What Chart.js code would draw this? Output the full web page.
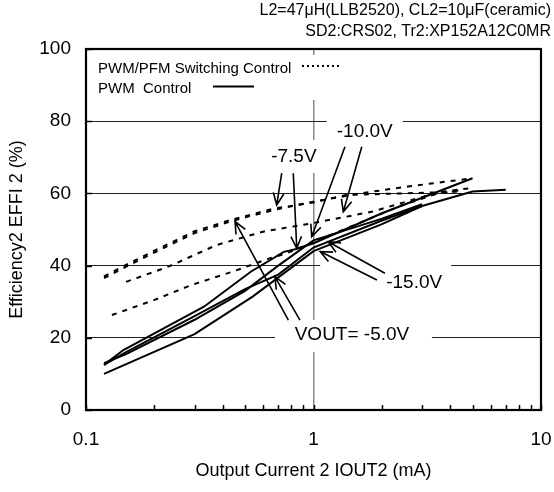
<!DOCTYPE html>
<html>
<head>
<meta charset="utf-8">
<script src="https://cdn.jsdelivr.net/npm/chart.js@4.4.1/dist/chart.umd.min.js"></script>
<style>
  html, body { margin: 0; padding: 0; background: #fff; }
  #wrap { width: 554px; height: 492px; position: relative; }
</style>
</head>
<body>
<div id="wrap"><canvas id="effChart"></canvas></div>
<script>
// ---- data ----
// PWM control (solid lines), output current (mA) / efficiency (%)
const pwm5I  = [0.12, 0.15, 0.3, 0.5, 0.7, 1, 2, 3];
const pwm5E  = [12.5, 16, 26, 33.5, 37.5, 45, 52.5, 56.5];
const pwm75I = [0.12, 0.146, 0.33, 0.53, 0.74, 0.84, 1, 2, 5];
const pwm75E = [12.5, 16.6, 28.6, 38.3, 43.8, 44.6, 46.2, 54.5, 64.2];
const pwm10I = [0.12, 0.15, 0.3, 0.5, 0.7, 1, 2, 3];
const pwm10E = [13, 15.5, 25, 33, 40, 47, 53, 57];
const pwm15I = [0.12, 0.3, 0.54, 1, 2, 3, 5, 7];
const pwm15E = [10, 21, 31.4, 44, 51.5, 56.5, 60.5, 61];

// PWM/PFM switching control (dashed lines)
const pfm5I  = [0.12, 0.15, 0.21, 0.3, 0.43, 0.51, 0.67, 1, 1.6, 2.6, 5];
const pfm5E  = [36.5, 39.7, 44.3, 49, 52.2, 53.5, 55.4, 57.7, 60, 61.9, 64.2];
const pfm75I = [0.12, 0.15, 0.21, 0.3, 0.43, 0.67, 1, 1.4, 2.5, 4.4];
const pfm75E = [37, 40.2, 44.8, 49.5, 52.6, 55.8, 57.5, 59.6, 60, 60.5];
const pfm10I = [0.15, 0.23, 0.375, 0.6, 1, 1.8, 3.2, 4.5];
const pfm10E = [35.5, 39.7, 45.7, 49.4, 51.8, 54.9, 59.5, 61];
const pfm15I = [0.13, 0.2, 0.29, 0.44, 0.64, 0.76, 1, 2.4, 3.7, 5];
const pfm15E = [26.3, 30.5, 34.6, 38.3, 42, 43.4, 46.5, 56.5, 60.5, 61.5];

// axes
const xTicks = [0.1, 0.2, 0.3, 0.4, 0.5, 0.6, 0.7, 0.8, 0.9, 1, 2, 3, 4, 5, 6, 7, 8, 9, 10];
const xLabels = [0.1, 1, 10];
const yTicks = [0, 20, 40, 60, 80, 100];

// text
const headerLines = ['L2=47\u03bcH(LLB2520), CL2=10\u03bcF(ceramic)', 'SD2:CRS02, Tr2:XP152A12C0MR'];
const legendTexts = ['PWM/PFM Switching Control', 'PWM  Control'];

// curve labels (data position) with the white box around them (px offsets)
const curveLabels = [
    { text: '-7.5V',       x: 0.82,  y: 70.1, box: [-26, 26, -17, 16] },
    { text: '-10.0V',      x: 1.68,  y: 77.0, box: [-38, 38, -19, 15] },
    { text: '-15.0V',      x: 2.77,  y: 35.2, box: [-94, 37, -21, 15] },
    { text: 'VOUT= -5.0V', x: 1.476, y: 20.8, box: [-77, 80, -15, 17] },
];
// arrows: from (x, y) to (x, y) in data units
const arrows = [
    [0.725, 65.6, 0.689, 56.8],
    [0.815, 65.6, 0.844, 44.8],
    [1.375, 72.9, 0.982, 48.0],
    [1.63, 72.9, 1.352, 54.9],
    [2.06, 37.9, 1.16, 46.6],
    [1.90, 36.0, 1.07, 43.9],
    [0.775, 24.9, 0.452, 52.2],
    [0.872, 24.9, 0.677, 36.9],
];

const FONT = "Arial, 'Liberation Sans', sans-serif";

function pts(xs, ys) {
    return xs.map((x, i) => ({ x: x, y: ys[i] }));
}

function solid(label, xs, ys) {
    return { label, data: pts(xs, ys), borderColor: '#000', borderWidth: 2, pointRadius: 0, tension: 0, fill: false };
}
function dashed(label, xs, ys) {
    return { label, data: pts(xs, ys), borderColor: '#000', borderWidth: 2, borderDash: [5, 6], pointRadius: 0, tension: 0, fill: false };
}

function arrow(ctx, x1, y1, x2, y2) {
    const a = Math.atan2(y2 - y1, x2 - x1);
    const len = 13, spread = 0.42;
    ctx.beginPath();
    ctx.moveTo(x1, y1);
    ctx.lineTo(x2, y2);
    ctx.moveTo(x2 - len * Math.cos(a - spread), y2 - len * Math.sin(a - spread));
    ctx.lineTo(x2, y2);
    ctx.lineTo(x2 - len * Math.cos(a + spread), y2 - len * Math.sin(a + spread));
    ctx.stroke();
}

// boxes, labels, arrows, legend, frame, header
const decorPlugin = {
    id: 'decor',
    beforeDatasetsDraw(chart) {
        const { ctx, scales: { x, y } } = chart;
        ctx.save();
        ctx.fillStyle = '#fff';
        curveLabels.forEach(l => {
            const cx = x.getPixelForValue(l.x), cy = y.getPixelForValue(l.y);
            ctx.fillRect(cx + l.box[0], cy + l.box[2], l.box[1] - l.box[0], l.box[3] - l.box[2]);
        });
        // legend background
        ctx.fillRect(chart.chartArea.left + 6, chart.chartArea.top + 6, 256, 45);
        ctx.restore();
    },
    afterDatasetsDraw(chart) {
        const { ctx, scales: { x, y }, chartArea: area } = chart;
        ctx.save();
        ctx.strokeStyle = '#000';
        ctx.lineWidth = 1.6;
        arrows.forEach(a => {
            arrow(ctx, x.getPixelForValue(a[0]), y.getPixelForValue(a[1]),
                x.getPixelForValue(a[2]), y.getPixelForValue(a[3]));
        });
        ctx.fillStyle = '#000';
        ctx.font = '19px ' + FONT;
        ctx.textAlign = 'center';
        ctx.textBaseline = 'middle';
        curveLabels.forEach(l => {
            ctx.fillText(l.text, x.getPixelForValue(l.x), y.getPixelForValue(l.y));
        });

        // legend
        ctx.font = '15px ' + FONT;
        ctx.textAlign = 'left';
        const lx = area.left + 12;
        ctx.fillText(legendTexts[0], lx, area.top + 20);
        ctx.fillText(legendTexts[1], lx, area.top + 40);
        ctx.lineWidth = 2;
        ctx.setLineDash([2, 3]);
        ctx.beginPath();
        ctx.moveTo(area.left + 216, area.top + 17);
        ctx.lineTo(area.left + 256, area.top + 17);
        ctx.stroke();
        ctx.setLineDash([]);
        ctx.beginPath();
        ctx.moveTo(area.left + 127, area.top + 37.5);
        ctx.lineTo(area.left + 168, area.top + 37.5);
        ctx.stroke();
        ctx.restore();
    },
    afterDraw(chart) {
        const { ctx, scales: { x, y }, chartArea: area } = chart;
        ctx.save();
        ctx.strokeStyle = '#000';
        // inner minor ticks along the bottom
        ctx.lineWidth = 1.5;
        ctx.beginPath();
        xTicks.forEach(v => {
            const px = Math.round(x.getPixelForValue(v)) + 0.5;
            ctx.moveTo(px, area.bottom);
            ctx.lineTo(px, area.bottom - 5);
        });
        yTicks.forEach(v => {
            const py = Math.round(y.getPixelForValue(v)) + 0.5;
            ctx.moveTo(area.left, py);
            ctx.lineTo(area.left + 6, py);
        });
        ctx.stroke();
        // frame
        ctx.lineWidth = 2.2;
        ctx.strokeRect(area.left, area.top, area.right - area.left, area.bottom - area.top);
        // header
        ctx.fillStyle = '#000';
        ctx.font = '16px ' + FONT;
        ctx.textAlign = 'right';
        ctx.textBaseline = 'middle';
        ctx.fillText(headerLines[0], 551, 11);
        ctx.fillText(headerLines[1], 551, 32);
        ctx.restore();
    },
};

function initEfficiencyChart() {
    const ctx = document.getElementById('effChart');
    if (!ctx) return;

    new Chart(ctx, {
        type: 'line',
        data: {
            datasets: [
                solid('PWM -5.0V', pwm5I, pwm5E),
                solid('PWM -7.5V', pwm75I, pwm75E),
                solid('PWM -10.0V', pwm10I, pwm10E),
                solid('PWM -15.0V', pwm15I, pwm15E),
                dashed('PWM/PFM -5.0V', pfm5I, pfm5E),
                dashed('PWM/PFM -7.5V', pfm75I, pfm75E),
                dashed('PWM/PFM -10.0V', pfm10I, pfm10E),
                dashed('PWM/PFM -15.0V', pfm15I, pfm15E),
            ],
        },
        options: {
            responsive: true,
            maintainAspectRatio: false,
            animation: false,
            layout: { padding: { top: 49, right: 13, left: 0, bottom: 0 } },
            plugins: {
                legend: { display: false },
                tooltip: { enabled: false },
            },
            scales: {
                x: {
                    type: 'logarithmic',
                    min: 0.1,
                    max: 10,
                    afterBuildTicks: (scale) => { scale.ticks = xTicks.map(v => ({ value: v })); },
                    afterFit: (scale) => {
                        scale.height = 82;
                        scale.paddingLeft = 0;
                        scale.paddingRight = 0;
                    },
                    border: { display: false },
                    grid: {
                        drawTicks: false,
                        lineWidth: 1.5,
                        color: (c) => (c.tick && c.tick.value === 1 ? '#8a8a8a' : 'rgba(0,0,0,0)'),
                    },
                    ticks: {
                        autoSkip: false,
                        maxRotation: 0,
                        padding: 18,
                        color: '#000',
                        font: { family: FONT, size: 19 },
                        callback: (v) => (xLabels.includes(v) ? String(v) : ''),
                    },
                    title: {
                        display: true,
                        text: 'Output Current 2 IOUT2 (mA)',
                        color: '#000',
                        font: { family: FONT, size: 18 },
                        padding: { top: 0, bottom: 10 },
                    },
                },
                y: {
                    min: 0,
                    max: 100,
                    afterBuildTicks: (scale) => { scale.ticks = yTicks.map(v => ({ value: v })); },
                    afterFit: (scale) => {
                        scale.width = 86;
                        scale.paddingTop = 0;
                        scale.paddingBottom = 0;
                    },
                    border: { display: false },
                    grid: {
                        drawTicks: false,
                        lineWidth: 1,
                        color: (c) => (c.tick && (c.tick.value === 0 || c.tick.value === 100) ? 'rgba(0,0,0,0)' : '#222'),
                    },
                    ticks: {
                        padding: 15,
                        color: '#000',
                        font: { family: FONT, size: 19 },
                    },
                    title: {
                        display: true,
                        text: 'Efficiency2 EFFI 2 (%)',
                        color: '#000',
                        font: { family: FONT, size: 18 },
                        padding: { top: 6, bottom: 0 },
                    },
                },
            },
        },
        plugins: [decorPlugin],
    });
}

initEfficiencyChart();
</script>
</body>
</html>
